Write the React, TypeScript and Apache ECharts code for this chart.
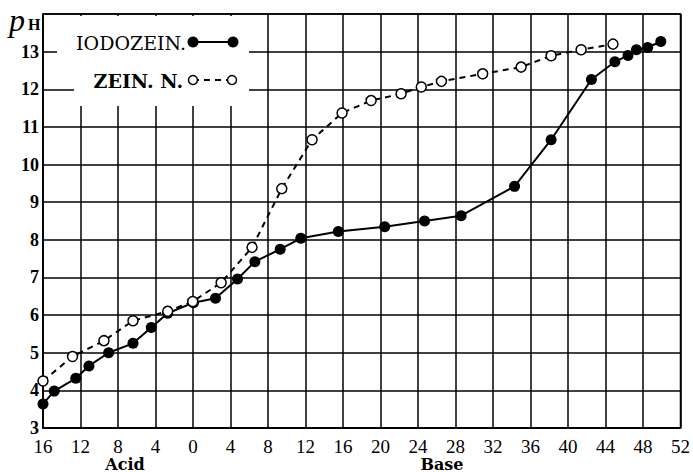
import React, { useEffect, useRef } from "react";
import * as echarts from "echarts";

const iodoX = [-16, -14.8, -12.5, -11.1, -9.0, -6.4, -4.45, -2.7, 0.05, 2.4, 4.75, 6.6, 9.3, 11.5, 15.5, 20.45, 24.7, 28.6, 34.3, 38.2, 42.5, 45.0, 46.4, 47.3, 48.5, 49.9];
const iodoY = [3.64, 3.98, 4.32, 4.65, 5.0, 5.25, 5.67, 6.05, 6.33, 6.45, 6.96, 7.42, 7.75, 8.04, 8.22, 8.35, 8.5, 8.64, 9.42, 10.66, 12.26, 12.73, 12.9, 13.05, 13.11, 13.27];
const zeinX = [-16, -12.85, -9.5, -6.4, -2.7, -0.03, 3.0, 6.3, 9.47, 12.7, 15.9, 19.0, 22.2, 24.35, 26.5, 30.9, 35.0, 38.2, 41.4, 44.8];
const zeinY = [4.25, 4.9, 5.32, 5.85, 6.1, 6.36, 6.86, 7.8, 9.36, 10.66, 11.37, 11.7, 11.88, 12.06, 12.21, 12.41, 12.59, 12.89, 13.05, 13.2];
const seriesNames = ["IODOZEIN.", "ZEIN. N."];
const axisWords = ["Acid", "Base"];

const FONT = "Liberation Serif";
const WIDE = "DejaVu Serif";

export default function App() {
  const ref = useRef<HTMLDivElement>(null);
  useEffect(() => {
    if (!ref.current) return;
    const chart = echarts.init(ref.current, undefined, { renderer: "svg" });
    const iodo = iodoX.map((x, i) => [x, iodoY[i]]);
    const zein = zeinX.map((x, i) => [x, zeinY[i]]);
    const txt = (text: string, x: number, y: number, size: number, family: string, extra: any = {}) => ({
      type: "text", z: 51, x, y,
      style: { text, fill: "#000", fontFamily: family, fontSize: size, ...extra },
    });
    chart.setOption({
      animation: false,
      backgroundColor: "#fff",
      grid: { left: 43, right: 10, top: 14, bottom: 44, show: true, borderColor: "#000", borderWidth: 1.5, backgroundColor: "transparent" },
      xAxis: {
        type: "value", min: -16, max: 52, interval: 4,
        axisLine: { show: true, onZero: false, lineStyle: { color: "#000", width: 1.5 } },
        axisTick: { show: false },
        splitLine: { show: true, lineStyle: { color: "#000", width: 1.5 } },
        axisLabel: { color: "#000", fontFamily: FONT, fontSize: 19, lineHeight: 18, margin: 9, formatter: (v: number) => String(Math.abs(v)) },
      },
      yAxis: {
        type: "value", min: 3, max: 14, interval: 1,
        axisLine: { show: true, onZero: false, lineStyle: { color: "#000", width: 1.5 } },
        axisTick: { show: false },
        splitLine: { show: true, lineStyle: { color: "#000", width: 1.5 } },
        axisLabel: { color: "#000", fontFamily: FONT, fontSize: 18, lineHeight: 16, fontWeight: "bold", margin: 4, formatter: (v: number) => (v >= 14 ? "" : String(v)) },
      },
      graphic: [
        { type: "rect", z: 50, shape: { x: 57, y: 16, width: 192, height: 48 }, style: { fill: "#fff" } },
        { type: "rect", z: 50, shape: { x: 74, y: 64, width: 175, height: 42 }, style: { fill: "#fff" } },
        txt(seriesNames[0], 186, 43, 19, WIDE, { align: "right", verticalAlign: "middle" }),
        { type: "line", z: 51, shape: { x1: 193, y1: 42, x2: 233, y2: 42 }, style: { stroke: "#000", lineWidth: 2 } },
        { type: "circle", z: 52, shape: { cx: 193, cy: 42, r: 5.5 }, style: { fill: "#000" } },
        { type: "circle", z: 52, shape: { cx: 233, cy: 42, r: 5.5 }, style: { fill: "#000" } },
        txt(seriesNames[1], 183, 81, 19, WIDE, { align: "right", verticalAlign: "middle", fontWeight: "bold" }),
        { type: "line", z: 51, shape: { x1: 193, y1: 80, x2: 232, y2: 80 }, style: { stroke: "#000", lineWidth: 2, lineDash: [6, 5] } },
        { type: "circle", z: 52, shape: { cx: 193, cy: 80, r: 4.5 }, style: { fill: "#fff", stroke: "#000", lineWidth: 1.5 } },
        { type: "circle", z: 52, shape: { cx: 232, cy: 80, r: 4.5 }, style: { fill: "#fff", stroke: "#000", lineWidth: 1.5 } },
        txt("p", 9, 4, 32, FONT, { fontStyle: "italic" }),
        txt("H", 28, 16, 16, FONT, { fontWeight: "bold" }),
        txt(axisWords[0], 125, 464, 16, WIDE, { align: "center", verticalAlign: "middle", fontWeight: "bold" }),
        txt(axisWords[1], 442, 464, 16, WIDE, { align: "center", verticalAlign: "middle", fontWeight: "bold" }),
      ],
      series: [
        {
          name: seriesNames[0], type: "line", data: iodo, z: 10,
          symbol: "circle", symbolSize: 11,
          itemStyle: { color: "#000" },
          lineStyle: { color: "#000", width: 2 },
        },
        {
          name: seriesNames[1], type: "line", data: zein, z: 11,
          symbol: "circle", symbolSize: 10,
          itemStyle: { color: "#fff", borderColor: "#000", borderWidth: 1.5 },
          lineStyle: { color: "#000", width: 2, type: [6, 5] },
        },
      ],
    });
    return () => chart.dispose();
  }, []);
  return <div ref={ref} style={{ position: "fixed", left: 0, top: 0, width: 693, height: 472 }} />;
}
